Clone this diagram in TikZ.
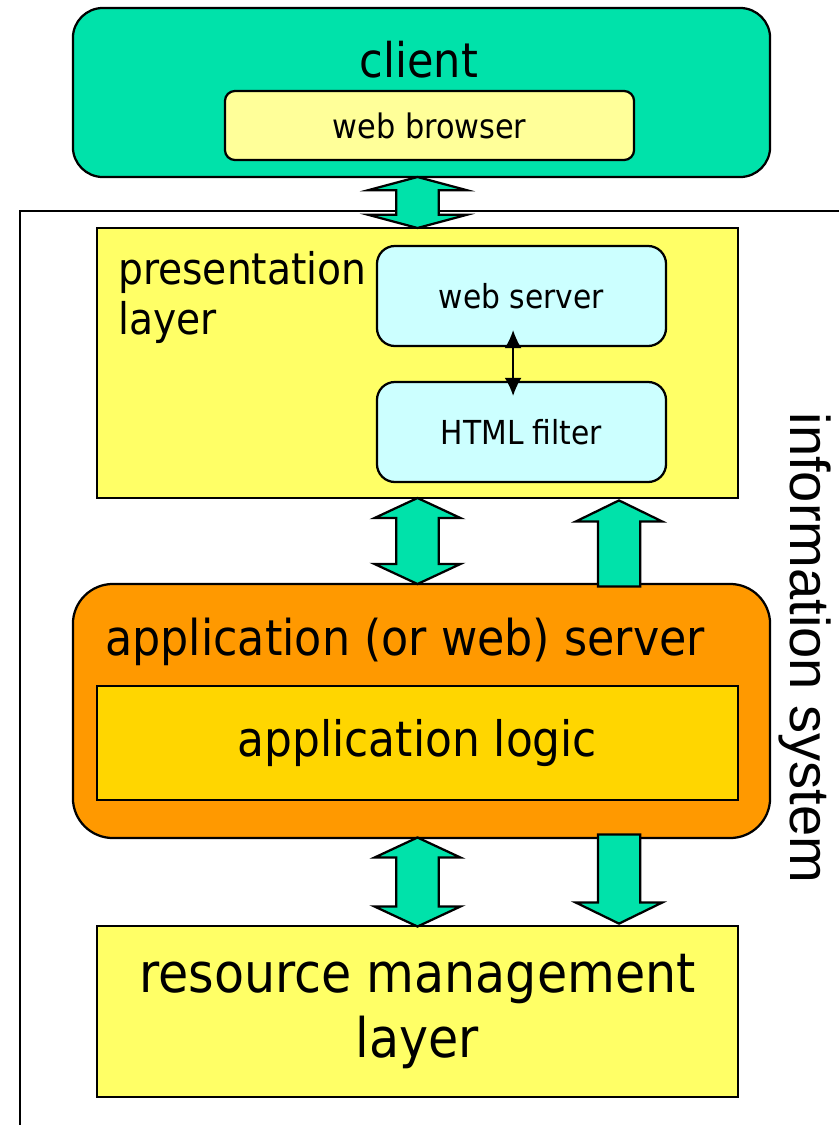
\documentclass[tikz,border=0pt]{standalone}
\usepackage{fontspec}
\setmainfont{DejaVu Sans Condensed}
\newfontfamily\infofont{Liberation Sans}
\usetikzlibrary{shapes.arrows,calc,arrows.meta}
\definecolor{clientgreen}{RGB}{0,226,170}
\definecolor{browseryellow}{RGB}{255,255,153}
\definecolor{layeryellow}{RGB}{255,255,102}
\definecolor{servercyan}{RGB}{204,255,255}
\definecolor{apporange}{RGB}{255,153,0}
\definecolor{logicgold}{RGB}{255,214,0}

\begin{document}
\begin{tikzpicture}[x=0.025cm,y=-0.025cm]
\tikzstyle{every node}+=[inner sep=0pt]
\tikzstyle{box}=[draw=black,line width=1.6pt]
\tikzstyle{fatarrow}=[draw=black,line width=1.6pt,fill=clientgreen,inner xsep=0pt,inner ysep=0.5cm]
\tikzstyle{twoway}=[fatarrow,double arrow,rotate=90,minimum width=2.1cm,double arrow head extend=0.55cm,double arrow tip angle=130]
\tikzstyle{oneway}=[fatarrow,single arrow,anchor=tip,minimum width=2.1cm,single arrow head extend=0.55cm,single arrow tip angle=128]
\useasboundingbox (0,0) rectangle (839,1125);
\draw [line width=1.1pt] (839,211) -- (20,211) -- (20,1125);
\node [box,rounded corners=0.75cm,fill=clientgreen,minimum width=17.425cm,minimum height=4.225cm] (client) at (421.5,92.5) {};
\node [anchor=base,font=\fontsize{34}{41}\selectfont] (clienttext) at (419,77) {client};
\node [box,rounded corners=0.25cm,fill=browseryellow,minimum width=10.225cm,minimum height=1.725cm,font=\fontsize{24}{29}\selectfont] (browser) at (429.5,125.5) {web browser};
\node [box,fill=layeryellow,minimum width=16.025cm,minimum height=6.75cm] (pres) at (417.5,363) {};
\node [anchor=north west,align=left,font=\fontsize{31}{35.6}\selectfont] (prestext) at (118,251) {presentation\\layer};
\node [box,rounded corners=0.45cm,fill=servercyan,minimum width=7.225cm,minimum height=2.5cm,font=\fontsize{23.5}{28}\selectfont] (webserver) at (521.5,296) {web server};
\node [box,rounded corners=0.45cm,fill=servercyan,minimum width=7.225cm,minimum height=2.5cm,font=\fontsize{23.5}{28}\selectfont] (filter) at (521.5,432) {HTML filter};
\draw [line width=1.1pt,{Latex[length=0.45cm,width=0.42cm]}-{Latex[length=0.45cm,width=0.42cm]}] ([xshift=-0.21cm,yshift=0.425cm]webserver.south) -- ([xshift=-0.21cm,yshift=-0.375cm]filter.north);
\node [box,rounded corners=1cm,fill=apporange,minimum width=17.425cm,minimum height=6.35cm] (app) at (421.5,711) {};
\node [anchor=base west,font=\fontsize{35.1}{42}\selectfont] (apptext) at (105,655) {application (or web) server};
\node [box,fill=logicgold,minimum width=16.025cm,minimum height=2.85cm,font=\fontsize{34.7}{42}\selectfont] (logic) at (417.5,743) {application logic};
\node [box,fill=layeryellow,minimum width=16.025cm,minimum height=4.275cm,align=center,font=\fontsize{38.8}{46}\selectfont] (res) at (417.5,1011.5) {resource management\\layer};
\node [rotate=-90,font=\infofont\fontsize{39.9}{46}\selectfont] (infosys) at (805,648) {information system};
\node [twoway,minimum height=1.275cm,minimum width=2.4cm,double arrow head extend=0.7cm,double arrow tip angle=150] (a1) at ($(pres.north)!0.5!(pres.north|-client.south)$) {};
\node [twoway,minimum height=2.15cm] (a2) at ($(pres.south)!0.5!(pres.south|-app.north)$) {};
\node [oneway,rotate=90,minimum height=2.15cm] (a3) at ($(pres.south)+(201.5,0)$) {};
\node [twoway,minimum height=2.225cm] (a4) at ($(res.north)!0.5!(res.north|-app.south)$) {};
\node [oneway,rotate=-90,minimum height=2.225cm] (a5) at ($(res.north)+(201.5,0)$) {};
\end{tikzpicture}
\end{document}
